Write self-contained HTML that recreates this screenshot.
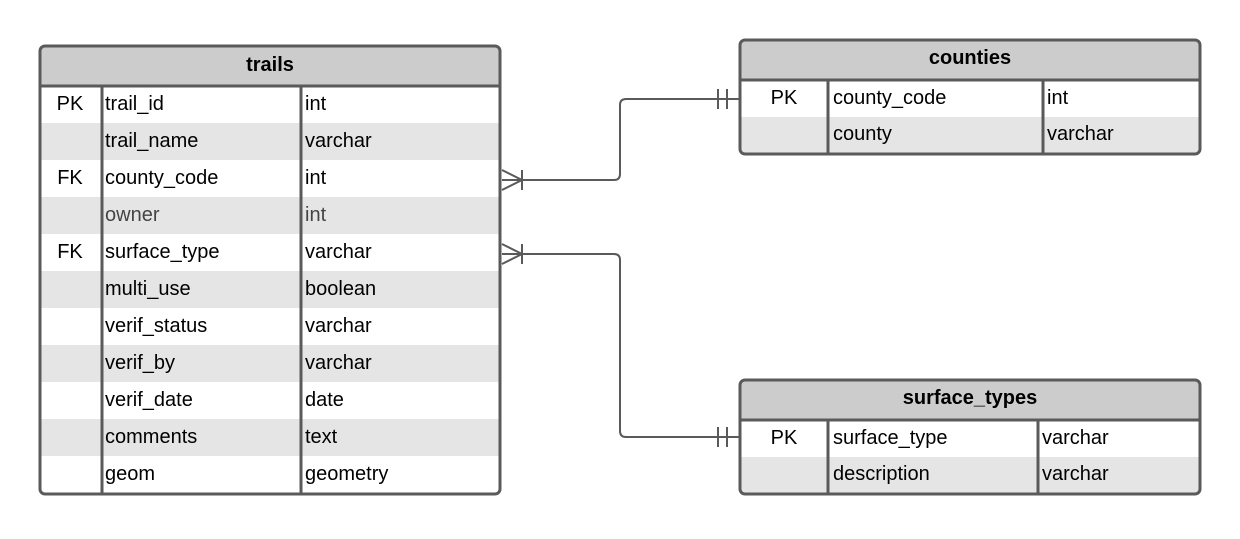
<!DOCTYPE html>
<html><head><meta charset="utf-8"><style>
body{margin:0;background:#fff}
svg text{font-family:"Liberation Sans",sans-serif;font-size:20px;fill:#000}
</style></head><body>
<svg width="1240" height="534" viewBox="0 0 1240 534" xmlns="http://www.w3.org/2000/svg">
<defs><clipPath id="c1"><rect x="40" y="46" width="460" height="448" rx="5"/></clipPath>
<clipPath id="c2"><rect x="740" y="40" width="460" height="114" rx="5"/></clipPath>
<clipPath id="c3"><rect x="740" y="380" width="460" height="114" rx="5"/></clipPath></defs>
<!-- trails -->
<g clip-path="url(#c1)">
<rect x="40" y="46" width="460" height="448" fill="#fff"/>
<rect x="40" y="46" width="460" height="40" fill="#cccccc"/>
<rect x="40" y="123" width="460" height="37" fill="#e5e5e5"/>
<rect x="40" y="197" width="460" height="37" fill="#e5e5e5"/>
<rect x="40" y="271" width="460" height="37" fill="#e5e5e5"/>
<rect x="40" y="345" width="460" height="37" fill="#e5e5e5"/>
<rect x="40" y="419" width="460" height="37" fill="#e5e5e5"/>
</g>
<line x1="40" y1="86" x2="500" y2="86" stroke="#5a5a5a" stroke-width="3"/>
<line x1="102" y1="86" x2="102" y2="494" stroke="#5a5a5a" stroke-width="3"/>
<line x1="301" y1="86" x2="301" y2="494" stroke="#5a5a5a" stroke-width="3"/>
<rect x="40" y="46" width="460" height="448" rx="5" fill="none" stroke="#5a5a5a" stroke-width="3"/>
<text x="270" y="71" text-anchor="middle" font-weight="bold" style="font-weight:bold">trails</text>
<g>
<text x="70" y="110" text-anchor="middle">PK</text><text x="105" y="110">trail_id</text><text x="305" y="110">int</text>
<text x="105" y="147">trail_name</text><text x="305" y="147">varchar</text>
<text x="70" y="184" text-anchor="middle">FK</text><text x="105" y="184">county_code</text><text x="305" y="184">int</text>
<text x="105" y="221" style="fill:#444">owner</text><text x="305" y="221" style="fill:#444">int</text>
<text x="70" y="258" text-anchor="middle">FK</text><text x="105" y="258">surface_type</text><text x="305" y="258">varchar</text>
<text x="105" y="295">multi_use</text><text x="305" y="295">boolean</text>
<text x="105" y="332">verif_status</text><text x="305" y="332">varchar</text>
<text x="105" y="369">verif_by</text><text x="305" y="369">varchar</text>
<text x="105" y="406">verif_date</text><text x="305" y="406">date</text>
<text x="105" y="443">comments</text><text x="305" y="443">text</text>
<text x="105" y="480">geom</text><text x="305" y="480">geometry</text>
</g>
<!-- counties -->
<g clip-path="url(#c2)">
<rect x="740" y="40" width="460" height="114" fill="#fff"/>
<rect x="740" y="40" width="460" height="40" fill="#cccccc"/>
<rect x="740" y="117" width="460" height="37" fill="#e5e5e5"/>
</g>
<line x1="740" y1="80" x2="1200" y2="80" stroke="#5a5a5a" stroke-width="3"/>
<line x1="828" y1="80" x2="828" y2="154" stroke="#5a5a5a" stroke-width="3"/>
<line x1="1043" y1="80" x2="1043" y2="154" stroke="#5a5a5a" stroke-width="3"/>
<rect x="740" y="40" width="460" height="114" rx="5" fill="none" stroke="#5a5a5a" stroke-width="3"/>
<text x="970" y="64" text-anchor="middle" style="font-weight:bold">counties</text>
<text x="784" y="104" text-anchor="middle">PK</text><text x="833" y="104">county_code</text><text x="1047" y="104">int</text>
<text x="833" y="140">county</text><text x="1047" y="140">varchar</text>
<!-- surface_types -->
<g clip-path="url(#c3)">
<rect x="740" y="380" width="460" height="114" fill="#fff"/>
<rect x="740" y="380" width="460" height="40" fill="#cccccc"/>
<rect x="740" y="457" width="460" height="37" fill="#e5e5e5"/>
</g>
<line x1="740" y1="420" x2="1200" y2="420" stroke="#5a5a5a" stroke-width="3"/>
<line x1="828" y1="420" x2="828" y2="494" stroke="#5a5a5a" stroke-width="3"/>
<line x1="1038" y1="420" x2="1038" y2="494" stroke="#5a5a5a" stroke-width="3"/>
<rect x="740" y="380" width="460" height="114" rx="5" fill="none" stroke="#5a5a5a" stroke-width="3"/>
<text x="970" y="404" text-anchor="middle" style="font-weight:bold">surface_types</text>
<text x="784" y="444" text-anchor="middle">PK</text><text x="833" y="444">surface_type</text><text x="1042" y="444">varchar</text>
<text x="833" y="480">description</text><text x="1042" y="480">varchar</text>
<!-- connectors -->
<g fill="none" stroke="#5a5a5a" stroke-width="2">
<path d="M502 180 H614 Q620 180 620 174 V105 Q620 99 626 99 H740"/>
<path d="M502 170 L522 180 L502 190 M522 170 V190 M718 89 V109 M727 89 V109"/>
<path d="M502 254 H614 Q620 254 620 260 V431 Q620 437 626 437 H740"/>
<path d="M502 244 L522 254 L502 264 M522 244 V264 M718 427 V447 M727 427 V447"/>
</g>
</svg>
</body></html>
